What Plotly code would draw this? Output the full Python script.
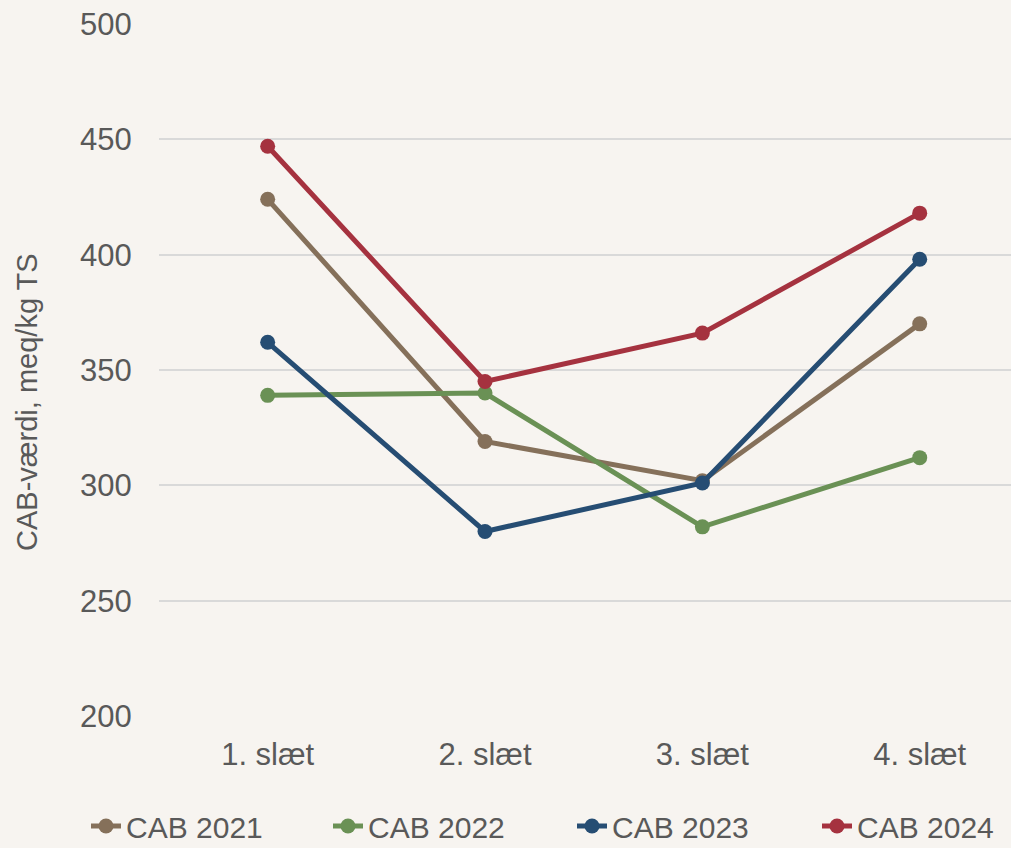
import plotly.graph_objects as go

categories = ["1. slæt", "2. slæt", "3. slæt", "4. slæt"]
series_names = ["CAB 2021", "CAB 2022", "CAB 2023", "CAB 2024"]
cab_2021 = [424, 319, 302, 370]
cab_2022 = [339, 340, 282, 312]
cab_2023 = [362, 280, 301, 398]
cab_2024 = [447, 345, 366, 418]
colors = ["#85705A", "#6A9155", "#264D73", "#A5323F"]
y_ticks = [200, 250, 300, 350, 400, 450, 500]

font_family = "Liberation Sans, Arial, sans-serif"
text_color = "#595959"
W, H = 1011, 848

legend_ids = ["legend", "legend2", "legend3", "legend4"]
legend_left_px = [86, 328, 572, 817]

fig = go.Figure()
for name, vals, col, lid in zip(series_names, [cab_2021, cab_2022, cab_2023, cab_2024], colors, legend_ids):
    fig.add_trace(go.Scatter(
        x=categories, y=vals, name=name, mode="lines+markers",
        line=dict(color=col, width=5),
        marker=dict(color=col, size=15),
        legend=lid,
    ))

legend_common = dict(orientation="h", xref="container", yref="container",
                     xanchor="left", yanchor="middle", y=1 - 826 / H,
                     font=dict(size=30, color=text_color), bgcolor="rgba(0,0,0,0)",
                     itemwidth=30, maxheight=80)
legend_layout = {lid: dict(legend_common, x=px / W) for lid, px in zip(legend_ids, legend_left_px)}

fig.update_layout(
    width=W, height=H,
    paper_bgcolor="#F7F4F0", plot_bgcolor="#F7F4F0",
    margin=dict(l=159, r=0, t=24, b=132),
    font=dict(family=font_family, size=31, color=text_color),
    showlegend=True,
    xaxis=dict(type="category", range=[-0.5, 3.42], showgrid=False, zeroline=False,
               showline=False, ticks="outside", ticklen=11, tickcolor="rgba(0,0,0,0)",
               tickfont=dict(size=31, color=text_color)),
    yaxis=dict(range=[200, 500], tickvals=y_ticks, showgrid=True, gridcolor="#D9D9D9",
               gridwidth=2, zeroline=False, showline=False, ticks="outside", ticklen=20,
               tickcolor="rgba(0,0,0,0)", tickfont=dict(size=31, color=text_color)),
    annotations=[dict(text="CAB-værdi, meq/kg TS", textangle=-90, showarrow=False,
                      xref="paper", yref="paper", x=(27 - 159) / 852, y=1 - (402 - 24) / 692,
                      xanchor="center", yanchor="middle",
                      font=dict(size=29, color=text_color, family=font_family))],
    **legend_layout,
)

fig.write_html("out.html", config={"displayModeBar": False},
               post_script="document.body.style.margin='0';document.documentElement.style.overflow='hidden';document.body.style.overflow='hidden';")
